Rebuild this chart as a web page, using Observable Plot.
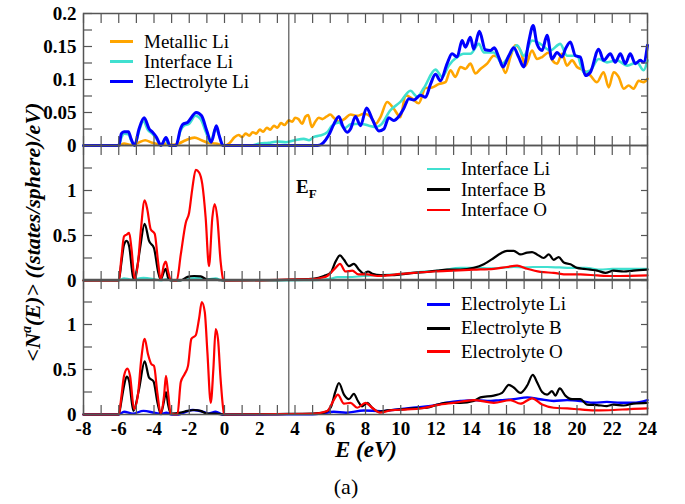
<!DOCTYPE html>
<html><head><meta charset="utf-8">
<script src="https://cdn.jsdelivr.net/npm/d3@7"></script>
<script src="https://cdn.jsdelivr.net/npm/@observablehq/plot@0.6"></script>
<style>
body{margin:0;background:#fff;}
#chart{position:relative;width:685px;height:504px;font-family:"Liberation Serif","Times New Roman","DejaVu Serif","Noto Serif","Nimbus Roman","FreeSerif",Times,serif;color:#000;}
#chart svg{position:absolute;left:0;overflow:visible;}
.lab{position:absolute;white-space:nowrap;}
.leg{position:absolute;font-size:19px;line-height:18px;height:18px;display:flex;align-items:center;white-space:nowrap;}
.sw{display:inline-block;width:23px;margin-right:11px;}
</style></head>
<body><div id="chart"></div>
<script>
// ---- data ----
const E_F = 3.65;
const xMajor = d3.range(-8, 25, 2);
const xMinor = d3.range(-8, 25, 1);
const topTicks = [0, 0.05, 0.1, 0.15, 0.2];
const topMinor = [0, 0.025, 0.05, 0.075, 0.1, 0.125, 0.15, 0.175, 0.2];
const lowTicks = [0, 0.5, 1];
const lowMinor = [0, 0.25, 0.5, 0.75, 1, 1.25];

const metallicLi = [[-8,0],[-6.0,0],[-5.7,0.003],[-5.3,0.001],[-4.9,0.004],[-4.5,0.008],[-4.1,0.004],[-3.7,0.002],[-3.3,0.003],[-3.0,0.001],[-2.6,0.003],[-2.2,0.008],[-1.7,0.012],[-1.3,0.008],[-0.9,0.004],[-0.5,0.003],[0,0],[0.3,0.004],[0.55,0.012],[0.8,0.016],[1.0,0.013],[1.2,0.018],[1.4,0.015],[1.6,0.02],[1.8,0.018],[2.0,0.024],[2.2,0.021],[2.4,0.027],[2.6,0.024],[2.8,0.03],[3.0,0.027],[3.2,0.034],[3.4,0.031],[3.65,0.038],[3.85,0.036],[4.0,0.042],[4.2,0.04],[4.4,0.033],[4.6,0.044],[4.75,0.046],[4.95,0.028],[5.15,0.036],[5.35,0.042],[5.55,0.04],[5.8,0.044],[6.0,0.047],[6.2,0.042],[6.5,0.036],[6.8,0.04],[7.15,0.047],[7.53,0.045],[7.9,0.048],[8.28,0.044],[8.57,0.033],[8.85,0.043],[9.23,0.066],[9.6,0.056],[9.98,0.043],[10.27,0.076],[10.65,0.071],[11.02,0.064],[11.4,0.087],[11.78,0.088],[12.15,0.093],[12.54,0.096],[12.82,0.114],[13.1,0.104],[13.39,0.119],[13.67,0.116],[13.95,0.124],[14.24,0.109],[14.52,0.116],[14.9,0.124],[15.28,0.136],[15.65,0.129],[15.94,0.110],[16.22,0.134],[16.5,0.152],[16.79,0.144],[17.07,0.121],[17.45,0.144],[17.73,0.131],[18.02,0.134],[18.39,0.141],[18.6,0.129],[18.87,0.124],[19.15,0.139],[19.43,0.121],[19.72,0.129],[20.0,0.119],[20.38,0.114],[20.76,0.106],[21.13,0.096],[21.51,0.111],[21.8,0.088],[22.08,0.111],[22.36,0.104],[22.65,0.086],[22.93,0.091],[23.21,0.086],[23.5,0.098],[23.78,0.096],[24.0,0.101]];

const interfaceLiTop = [[-8,0],[-6.0,0],[-5.85,0.012],[-5.7,0.018],[-5.45,0.017],[-5.3,0.008],[-5.1,0.0],[-4.85,0.022],[-4.6,0.037],[-4.35,0.024],[-4.1,0.018],[-3.85,0.01],[-3.6,0],[-3.35,0.01],[-3.15,0],[-2.75,0],[-2.5,0.022],[-2.3,0.03],[-2.0,0.033],[-1.65,0.045],[-1.35,0.04],[-1.05,0.02],[-0.8,0.005],[-0.5,0.026],[-0.3,0.015],[-0.1,0],[1.5,0],[2.0,0.003],[2.5,0.004],[3.0,0.006],[3.5,0.005],[4.0,0.008],[4.5,0.01],[4.8,0.008],[5.07,0.013],[5.4,0.015],[5.83,0.02],[6.1,0.03],[6.5,0.035],[6.8,0.026],[7.15,0.032],[7.7,0.033],[8.2,0.03],[8.6,0.028],[8.9,0.032],[9.4,0.053],[9.98,0.066],[10.55,0.083],[10.93,0.074],[11.31,0.087],[11.97,0.115],[12.35,0.104],[12.72,0.121],[13.2,0.134],[13.57,0.139],[13.95,0.139],[14.43,0.154],[14.71,0.141],[15.28,0.141],[15.75,0.124],[16.22,0.139],[16.6,0.152],[16.98,0.136],[17.45,0.159],[17.92,0.154],[18.49,0.144],[19.05,0.154],[19.43,0.136],[20.0,0.136],[20.38,0.111],[20.76,0.114],[21.23,0.131],[21.7,0.126],[22.27,0.129],[22.84,0.121],[23.4,0.126],[23.78,0.114],[24.0,0.129]];

const electrolyteLiTop = [[-8,0],[-6.0,0],[-5.85,0.018],[-5.7,0.021],[-5.45,0.021],[-5.3,0.01],[-5.1,0],[-4.85,0.025],[-4.56,0.042],[-4.27,0.025],[-4.08,0.02],[-3.85,0.012],[-3.6,0],[-3.32,0.012],[-3.1,0],[-2.75,0],[-2.5,0.025],[-2.37,0.032],[-2.1,0.035],[-1.6,0.05],[-1.3,0.045],[-1.0,0.022],[-0.75,0.005],[-0.46,0.03],[-0.3,0.015],[-0.08,0],[5.3,0],[5.6,0.004],[5.9,0.015],[6.2,0.032],[6.49,0.044],[6.7,0.03],[6.96,0.02],[7.15,0.025],[7.43,0.044],[7.72,0.030],[8.06,0.057],[8.38,0.040],[8.76,0.022],[9.04,0.025],[9.32,0.042],[9.6,0.038],[9.89,0.044],[10.17,0.056],[10.46,0.071],[10.74,0.069],[11.12,0.076],[11.4,0.073],[11.69,0.093],[11.97,0.108],[12.25,0.098],[12.63,0.124],[12.91,0.139],[13.2,0.134],[13.48,0.159],[13.67,0.149],[13.95,0.164],[14.14,0.146],[14.46,0.173],[14.8,0.145],[15.09,0.144],[15.31,0.148],[15.56,0.134],[15.8,0.119],[16.13,0.136],[16.41,0.148],[16.69,0.134],[16.98,0.119],[17.26,0.157],[17.51,0.182],[17.73,0.154],[18.02,0.144],[18.3,0.167],[18.58,0.131],[18.87,0.141],[19.15,0.134],[19.34,0.146],[19.62,0.157],[19.91,0.136],[20.19,0.134],[20.47,0.106],[20.76,0.111],[21.23,0.146],[21.51,0.129],[21.89,0.139],[22.17,0.126],[22.46,0.139],[22.74,0.124],[23.02,0.139],[23.31,0.124],[23.59,0.129],[23.78,0.126],[24.0,0.152]];

const interfaceLi = [[-8,0],[-6.0,0],[-5.7,0.025],[-5.3,0.01],[-4.6,0.03],[-4.0,0.015],[-3.6,0],[-3.3,0.015],[-3.0,0],[-2.6,0],[-2.0,0.02],[-1.6,0.03],[-1.0,0.012],[-0.5,0.025],[-0.1,0],[3.0,0],[4.5,0.003],[5.5,0.008],[6.02,0.02],[6.4,0.037],[7.0,0.037],[7.91,0.05],[8.85,0.06],[9.99,0.074],[11.12,0.096],[12.26,0.11],[13.39,0.14],[14.52,0.14],[15.0,0.135],[15.66,0.14],[16.41,0.15],[17.0,0.145],[17.5,0.15],[18.3,0.15],[19.0,0.145],[19.6,0.14],[20.5,0.14],[21.33,0.12],[22.0,0.13],[23.0,0.13],[24.0,0.13]];

const interfaceB = [[-8,0],[-6.0,0],[-5.85,0.2],[-5.7,0.40],[-5.55,0.44],[-5.41,0.38],[-5.2,0.05],[-5.13,0.01],[-4.95,0.15],[-4.79,0.36],[-4.53,0.63],[-4.28,0.44],[-4.0,0.36],[-3.77,0.10],[-3.62,0.01],[-3.43,0.10],[-3.33,0.13],[-3.2,0.03],[-3.05,0],[-2.5,0],[-2.1,0.04],[-1.73,0.05],[-1.35,0.045],[-0.97,0.01],[-0.6,0.01],[-0.3,0.005],[0,0],[3.0,0.005],[4.0,0.01],[5.1,0.02],[5.64,0.05],[6.02,0.085],[6.3,0.21],[6.55,0.28],[6.78,0.23],[7.06,0.16],[7.34,0.185],[7.63,0.12],[7.91,0.074],[8.14,0.10],[8.4,0.074],[8.85,0.06],[9.42,0.06],[9.99,0.067],[10.74,0.085],[11.5,0.096],[12.07,0.11],[12.63,0.12],[13.39,0.12],[14.14,0.14],[14.71,0.18],[15.28,0.25],[15.66,0.30],[16.03,0.33],[16.41,0.33],[16.79,0.29],[17.17,0.31],[17.45,0.315],[17.73,0.29],[18.11,0.25],[18.4,0.29],[18.68,0.23],[18.96,0.26],[19.25,0.20],[19.63,0.18],[20.0,0.14],[20.38,0.13],[20.76,0.12],[21.14,0.11],[21.61,0.085],[22.08,0.11],[22.65,0.10],[23.2,0.11],[24.0,0.12]];

const interfaceO = [[-8,0],[-6.0,0],[-5.85,0.25],[-5.7,0.49],[-5.55,0.51],[-5.41,0.53],[-5.28,0.36],[-5.09,0.01],[-4.9,0.21],[-4.75,0.55],[-4.53,0.89],[-4.38,0.79],[-4.19,0.57],[-3.96,0.52],[-3.77,0.21],[-3.62,0.01],[-3.43,0.18],[-3.33,0.21],[-3.2,0.10],[-3.05,0.01],[-2.71,0],[-2.48,0.29],[-2.2,0.64],[-2.01,0.75],[-1.82,1.03],[-1.63,1.23],[-1.44,1.20],[-1.26,1.07],[-1.07,0.70],[-0.88,0.16],[-0.69,0.70],[-0.56,0.85],[-0.41,0.70],[-0.22,0.21],[-0.07,0.01],[0,0],[2.5,0.005],[3.5,0.01],[5.0,0.015],[5.5,0.03],[5.83,0.05],[6.3,0.14],[6.55,0.185],[6.87,0.10],[7.25,0.11],[7.6,0.067],[8.1,0.067],[8.67,0.05],[9.2,0.056],[9.99,0.074],[10.74,0.085],[11.88,0.10],[13.0,0.11],[14.14,0.12],[15.28,0.13],[16.03,0.15],[16.6,0.165],[17.17,0.13],[17.92,0.096],[18.68,0.085],[19.44,0.067],[20.2,0.067],[21.14,0.056],[22.0,0.05],[23.0,0.052],[24.0,0.056]];

const electrolyteLi = [[-8,0],[-6.0,0],[-5.7,0.03],[-5.2,0.01],[-4.6,0.04],[-4.0,0.02],[-3.6,0.005],[-3.3,0.02],[-3.0,0],[-2.6,0],[-2.2,0.03],[-1.8,0.05],[-1.2,0.03],[-0.9,0.01],[-0.5,0.03],[-0.1,0],[5.0,0.003],[5.5,0.01],[6.2,0.03],[6.9,0.02],[7.9,0.045],[8.85,0.037],[9.8,0.056],[10.7,0.075],[11.7,0.094],[12.6,0.13],[13.39,0.15],[14.14,0.16],[14.9,0.15],[15.66,0.16],[16.41,0.17],[17.17,0.19],[17.9,0.17],[18.68,0.15],[19.44,0.16],[20.19,0.15],[20.95,0.13],[21.7,0.14],[22.46,0.13],[23.2,0.13],[24.0,0.16]];

const electrolyteB = [[-8,0],[-6.0,0],[-5.85,0.15],[-5.7,0.32],[-5.55,0.42],[-5.41,0.37],[-5.17,0.04],[-4.85,0.28],[-4.53,0.59],[-4.28,0.41],[-4.03,0.37],[-3.8,0.13],[-3.62,0.01],[-3.43,0.15],[-3.32,0.25],[-3.2,0.11],[-3.05,0.01],[-2.5,0.02],[-2.1,0.04],[-1.73,0.05],[-1.35,0.04],[-0.97,0.01],[-0.5,0.01],[0,0],[3.0,0.005],[5.0,0.01],[5.64,0.02],[6.02,0.075],[6.3,0.26],[6.49,0.35],[6.78,0.22],[7.06,0.17],[7.34,0.23],[7.57,0.15],[7.81,0.09],[8.1,0.13],[8.38,0.075],[8.76,0.03],[9.23,0.045],[9.99,0.056],[10.74,0.067],[11.5,0.075],[12.07,0.11],[12.63,0.13],[13.39,0.13],[14.14,0.15],[14.52,0.19],[15.28,0.21],[15.75,0.24],[16.13,0.33],[16.41,0.30],[16.79,0.24],[17.17,0.32],[17.49,0.44],[17.73,0.36],[18.02,0.25],[18.3,0.22],[18.58,0.26],[18.77,0.21],[19.02,0.29],[19.34,0.21],[19.72,0.17],[20.19,0.17],[20.57,0.11],[21.14,0.105],[21.7,0.094],[22.08,0.11],[22.65,0.10],[23.2,0.12],[24.0,0.13]];

const electrolyteO = [[-8,0],[-6.0,0],[-5.85,0.2],[-5.7,0.43],[-5.51,0.51],[-5.36,0.43],[-5.13,0.06],[-4.9,0.24],[-4.72,0.62],[-4.53,0.84],[-4.34,0.67],[-4.15,0.56],[-4.0,0.54],[-3.81,0.24],[-3.62,0.01],[-3.43,0.21],[-3.32,0.43],[-3.2,0.24],[-3.05,0.01],[-2.67,0],[-2.48,0.36],[-2.26,0.45],[-2.07,0.54],[-1.88,0.84],[-1.63,0.88],[-1.44,1.07],[-1.29,1.25],[-1.12,1.14],[-0.97,0.69],[-0.78,0.13],[-0.63,0.51],[-0.5,0.95],[-0.37,0.84],[-0.22,0.39],[-0.03,0.01],[0,0],[3.0,0.005],[5.0,0.008],[5.83,0.04],[6.2,0.16],[6.43,0.22],[6.78,0.12],[7.15,0.13],[7.53,0.075],[8.0,0.13],[8.38,0.075],[8.85,0.02],[9.42,0.045],[10.37,0.056],[11.12,0.067],[12.07,0.105],[13.0,0.13],[14.14,0.16],[15.28,0.13],[16.22,0.16],[16.79,0.12],[17.45,0.18],[18.02,0.11],[18.68,0.075],[19.44,0.067],[20.19,0.056],[21.14,0.045],[22.08,0.05],[23.0,0.06],[24.0,0.067]];

const colors = {metallic:"#FFA500", interfaceLi:"#40E0D0", electrolyteLi:"#0000FF", B:"#000000", O:"#FF0000"};

// ---- drawing ----
const chart = document.getElementById("chart");
const num = d => String(+(+d).toFixed(3));
const SERIF = "'Liberation Serif', 'Times New Roman', 'DejaVu Serif', 'Noto Serif', 'Nimbus Roman', FreeSerif, Times, serif";

function panel({lines, yDomain, yTicks, yMinor, height, marginTop, marginBottom, xLabels, top}) {
  const marks = lines.map(s => Plot.line(s.data, {x: d => d[0], y: d => d[1], stroke: s.color, strokeWidth: s.width, curve: "monotone-x"}));
  marks.push(Plot.ruleX([E_F], {stroke: "#333", strokeWidth: 1}));
  marks.push(Plot.frame({stroke: "#555", strokeWidth: 1.5}));
  const tk = {tickFormat: () => "", label: null, stroke: "#555", strokeWidth: 1.2};
  marks.push(Plot.axisY({anchor: "left", ticks: yMinor, tickSize: -9, ...tk}));
  marks.push(Plot.axisY({anchor: "right", ticks: yMinor, tickSize: -7, ...tk}));
  marks.push(Plot.axisX({anchor: "bottom", ticks: xMinor, tickSize: -9, ...tk}));
  marks.push(Plot.axisX({anchor: "top", ticks: xMinor, tickSize: -9, ...tk}));
  marks.push(Plot.axisY({anchor: "left", ticks: yTicks, tickSize: 0, tickPadding: 7, tickFormat: num, label: null, fontSize: 19, fontWeight: "bold", fill: "#000"}));
  if (xLabels) marks.push(Plot.axisX({anchor: "bottom", ticks: xMajor, tickSize: 0, tickPadding: 7, tickFormat: num, label: null, fontSize: 19, fontWeight: "bold", fill: "#000"}));
  const svg = Plot.plot({
    width: 685, height, marginLeft: 83, marginRight: 38, marginTop, marginBottom,
    x: {domain: [-8, 24]}, y: {domain: yDomain},
    style: {fontFamily: SERIF, background: "transparent", overflow: "visible", color: "#000"},
    marks
  });
  svg.style.top = top + "px";
  chart.appendChild(svg);
}

panel({top: 0, height: 146, marginTop: 13, marginBottom: 1, yDomain: [0, 0.2], yTicks: topTicks, yMinor: topMinor,
  lines: [{data: metallicLi, color: colors.metallic, width: 2.6}, {data: interfaceLiTop, color: colors.interfaceLi, width: 2.6}, {data: electrolyteLiTop, color: colors.electrolyteLi, width: 3}]});
panel({top: 145, height: 135, marginTop: 0, marginBottom: 0, yDomain: [0, 1.5], yTicks: lowTicks, yMinor: lowMinor,
  lines: [{data: interfaceLi, color: colors.interfaceLi, width: 2.2}, {data: interfaceB, color: colors.B, width: 2.2}, {data: interfaceO, color: colors.O, width: 2.2}]});
panel({top: 279, height: 225, marginTop: 0, marginBottom: 90, yDomain: [0, 1.5], yTicks: lowTicks, yMinor: lowMinor, xLabels: true,
  lines: [{data: electrolyteLi, color: colors.electrolyteLi, width: 2.4}, {data: electrolyteB, color: colors.B, width: 2.2}, {data: electrolyteO, color: colors.O, width: 2.2}]});

// ---- text overlays ----
function addText(html, css) {
  const d = document.createElement("div");
  d.className = "lab";
  d.innerHTML = html;
  Object.assign(d.style, css);
  chart.appendChild(d);
}
function legend(items, x, ys, thick) {
  items.forEach((it, i) => {
    const d = document.createElement("div");
    d.className = "leg";
    d.style.left = x + "px";
    d.style.top = (ys[i] - 9) + "px";
    d.innerHTML = `<span class="sw" style="height:${thick}px;background:${it.color}"></span><span>${it.label}</span>`;
    chart.appendChild(d);
  });
}
legend([{label: "Metallic Li", color: colors.metallic}, {label: "Interface Li", color: colors.interfaceLi}, {label: "Electrolyte Li", color: colors.electrolyteLi}], 110, [41.5, 61.5, 81.5], 3);
legend([{label: "Interface Li", color: colors.interfaceLi}, {label: "Interface B", color: colors.B}, {label: "Interface O", color: colors.O}], 427, [169, 189.5, 210], 2.5);
legend([{label: "Electrolyte Li", color: colors.electrolyteLi}, {label: "Electrolyte B", color: colors.B}, {label: "Electrolyte O", color: colors.O}], 427, [304.3, 328.3, 351.7], 2.5);

addText("E<sub style='font-size:13px;vertical-align:-5px'>F</sub>", {left: "296px", top: "176px", fontSize: "19px", fontWeight: "bold", lineHeight: "22px"});
addText("E (eV)", {left: "366px", top: "450px", transform: "translate(-50%,-50%)", fontSize: "23px", fontWeight: "bold", fontStyle: "italic"});
addText("(a)", {left: "346px", top: "487px", transform: "translate(-50%,-50%)", fontSize: "22px"});
addText("&lt;<i>N</i><sup style='font-size:14px;vertical-align:9px'>a</sup>(<i>E</i>)&gt; ((states/sphere)/eV)",
  {left: "30px", top: "232px", transform: "translate(-50%,-50%) rotate(-90deg)", fontSize: "22px", fontWeight: "bold", fontStyle: "italic", lineHeight: "26px"});
</script>
</body></html>
